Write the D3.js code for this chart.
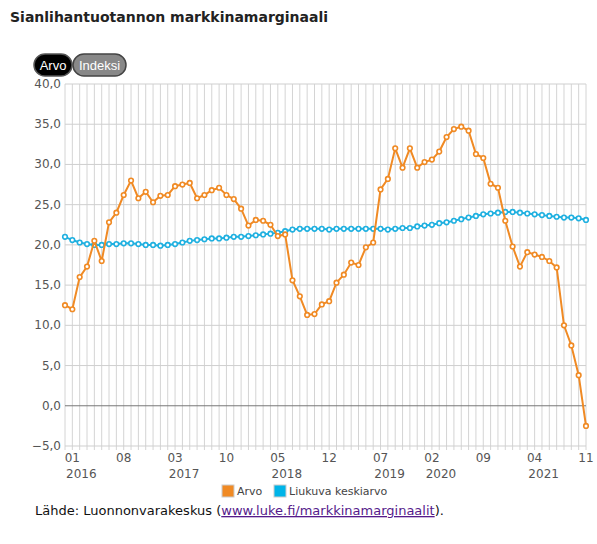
<!DOCTYPE html>
<html><head><meta charset="utf-8">
<script src="https://cdn.jsdelivr.net/npm/d3@7"></script>
<style>
body{margin:0;background:#fff;font-family:Verdana,"DejaVu Sans",sans-serif;}
</style></head><body>
<svg width="597" height="544"></svg>
<script>
const arvo = [12.5,12.0,16.0,17.3,20.5,18.0,22.8,24.0,26.2,28.0,
  25.8,26.6,25.3,26.1,26.2,27.3,27.5,27.7,25.8,26.2,
  26.8,27.1,26.2,25.7,24.5,22.4,23.1,23.0,22.5,21.1,
  21.3,15.6,13.6,11.3,11.4,12.6,13.0,15.3,16.3,17.8,
  17.5,19.7,20.3,26.9,28.2,32.0,29.6,32.0,29.6,30.3,
  30.6,31.6,33.4,34.4,34.7,34.2,31.3,30.8,27.6,27.1,
  23.0,19.8,17.3,19.1,18.8,18.5,18.0,17.2,10.0,7.5,
  3.8,-2.5];
const liukuva = [21.0,20.6,20.3,20.1,20.0,20.0,20.1,20.1,20.2,20.2,
  20.1,20.0,20.0,19.9,20.0,20.1,20.3,20.5,20.6,20.7,
  20.8,20.8,20.9,21.0,21.0,21.1,21.2,21.3,21.4,21.5,
  21.7,21.9,22.0,22.0,22.0,22.0,21.9,22.0,22.0,22.0,
  22.0,22.0,22.0,22.0,21.9,22.0,22.1,22.1,22.3,22.4,
  22.5,22.7,22.8,23.0,23.2,23.4,23.6,23.8,23.9,24.0,
  24.1,24.1,24.0,23.9,23.8,23.7,23.6,23.5,23.4,23.4,
  23.3,23.1];
// months 12/2015 .. 11/2021
const months = d3.range(72).map(i => new Date(2015, 11 + i, 1));
const yTicks = [-5,0,5,10,15,20,25,30,35,40];

const svg = d3.select('svg');
const x = d3.scaleLinear().domain([0, 71]).range([65, 586]);
const y = d3.scaleLinear().domain([-5, 40]).range([446, 84]);
const fmt = d3.format('.1f');

svg.append('text').attr('x', 10).attr('y', 22).attr('font-size', 14).attr('font-weight', 'bold')
  .attr('fill', '#222').text('Sianlihantuotannon markkinamarginaali');

// buttons
const btn = svg.append('g').attr('font-family', 'Arial, "Liberation Sans", sans-serif').attr('font-size', 13);
btn.append('rect').attr('x', 34).attr('y', 54).attr('width', 38).attr('height', 22).attr('rx', 11)
  .attr('fill', '#000').attr('stroke', '#555').attr('stroke-width', 1.5);
btn.append('text').attr('x', 53).attr('y', 70).attr('text-anchor', 'middle').attr('fill', '#fff').text('Arvo');
btn.append('rect').attr('x', 73).attr('y', 54).attr('width', 53).attr('height', 22).attr('rx', 11)
  .attr('fill', '#888').attr('stroke', '#444').attr('stroke-width', 1.5);
btn.append('text').attr('x', 99.5).attr('y', 70).attr('text-anchor', 'middle').attr('fill', '#fff').text('Indeksi');

// grid
svg.append('g').selectAll('line').data(d3.range(72)).join('line')
  .attr('x1', d => x(d)).attr('x2', d => x(d)).attr('y1', y(40)).attr('y2', y(-5) + 4)
  .attr('stroke', '#d4d4d4').attr('stroke-width', 1);
svg.append('g').selectAll('line').data(yTicks).join('line')
  .attr('x1', x(0)).attr('x2', x(71)).attr('y1', d => y(d)).attr('y2', d => y(d))
  .attr('stroke', d => d === 0 ? '#777' : '#cfcfcf').attr('stroke-width', 1);

svg.append('g').selectAll('text').data(yTicks).join('text')
  .attr('x', 61).attr('y', d => y(d) + 4).attr('text-anchor', 'end')
  .attr('font-size', 12).attr('fill', '#555').text(d => fmt(d).replace('.', ','));

const xl = svg.append('g').selectAll('text').data(d3.range(1, 72, 7)).join('text')
  .attr('font-size', 12).attr('fill', '#555').attr('text-anchor', 'middle');
xl.append('tspan').attr('x', d => x(d)).attr('y', 462).text(d => d3.timeFormat('%m')(months[d]));
xl.append('tspan').attr('x', d => x(d) + 9).attr('y', 478)
  .text(d => { const m = months[d]; return (m.getMonth() < 7 || d === 1) ? m.getFullYear() : ''; });

function series(data, color) {
  const line = d3.line().x((d, i) => x(i)).y(d => y(d));
  svg.append('path').datum(data).attr('d', line).attr('fill', 'none')
    .attr('stroke', color).attr('stroke-width', 2);
  svg.append('g').selectAll('circle').data(data).join('circle')
    .attr('cx', (d, i) => x(i)).attr('cy', d => y(d)).attr('r', 2.3)
    .attr('fill', '#fff').attr('stroke', color).attr('stroke-width', 1.6);
}
series(liukuva, '#1fb0e0');
series(arvo, '#f08a24');

// legend
const lg = svg.append('g').attr('font-size', 11).attr('fill', '#444');
lg.append('rect').attr('x', 222).attr('y', 485).attr('width', 12).attr('height', 12).attr('fill', '#f08a24').attr('stroke', '#ccc');
lg.append('text').attr('x', 237).attr('y', 495).text('Arvo');
lg.append('rect').attr('x', 274).attr('y', 485).attr('width', 12).attr('height', 12).attr('fill', '#00b4e8').attr('stroke', '#ccc');
lg.append('text').attr('x', 289).attr('y', 495).text('Liukuva keskiarvo');

const src = svg.append('text').attr('x', 35).attr('y', 515).attr('font-size', 13).attr('fill', '#111');
src.append('tspan').text('Lähde: Luonnonvarakeskus (');
src.append('tspan').attr('fill', '#551a8b').attr('text-decoration', 'underline').text('www.luke.fi/markkinamarginaalit');
src.append('tspan').text(').');
</script>
</body></html>
